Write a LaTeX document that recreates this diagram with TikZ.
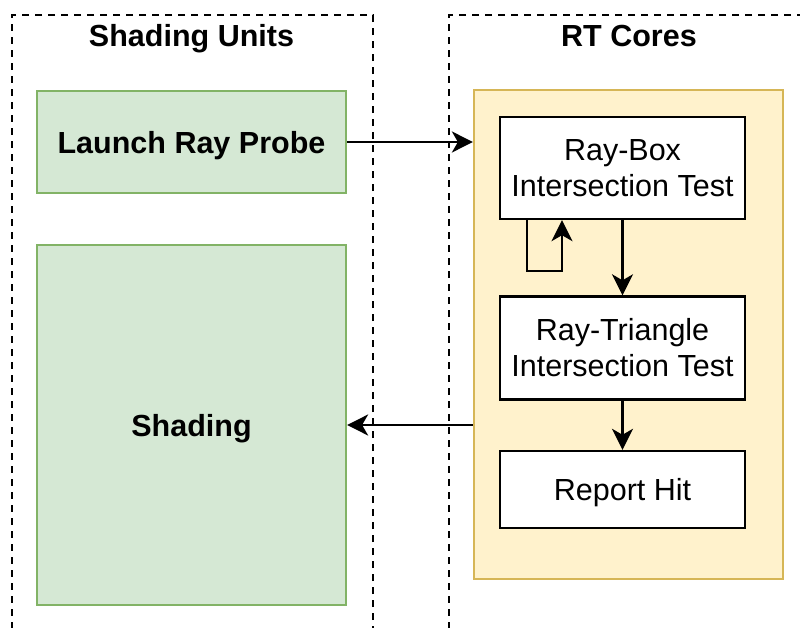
\documentclass[tikz,border=0pt]{standalone}
\usepackage{fontspec}
\setmainfont{Liberation Sans}
\usetikzlibrary{arrows.meta}
\usetikzlibrary{positioning}
\definecolor{greenfill}{HTML}{D5E8D4}
\definecolor{greenline}{HTML}{82B366}
\definecolor{yellowfill}{HTML}{FFF2CC}
\definecolor{yellowline}{HTML}{D6B656}
\tikzset{
  container/.style={draw, line width=2.4pt, dash pattern=on 7pt off 6pt, anchor=north west},
  title/.style={font=\fontsize{30.5}{36}\selectfont\bfseries, anchor=base},
  sunit/.style={draw=greenline, fill=greenfill, line width=2.2pt, minimum width=309pt,
    font=\fontsize{30.5}{36}\selectfont\bfseries, text depth=0pt},
  stage/.style={draw, fill=white, line width=2.4pt, minimum width=245pt, align=center,
    font=\fontsize{30.5}{36}\selectfont},
  arr/.style={line width=2.4pt, -{Stealth[length=21pt,width=21pt,inset=6pt]}}
}
\begin{document}
\begin{tikzpicture}[x=1pt, y=-1pt]
      \useasboundingbox (0, 0) rectangle (800, 628);
      % dashed groups, open at the picture edge
      \node [container, minimum width=361pt, minimum height=660pt] (units) at (11, 14) {};
      \node [container, minimum width=400pt, minimum height=660pt] (cores) at (448, 14) {};
      \node [title] at (191.5, 47) {Shading Units};
      \node [title] at (629, 47) {RT Cores};
      % shading units
      \node [sunit, minimum height=102pt] (launch) at (191.5, 142) {Launch Ray Probe};
      \node [sunit, minimum height=360pt] (shading) at (191.5, 425) {Shading};
      % rt core pipeline
      \node [draw=yellowline, fill=yellowfill, line width=2.2pt, minimum width=309pt, minimum height=489pt] (rt) at (628.5, 334.5) {};
      \node [stage, minimum height=102pt] (raybox) at (622.5, 168) {Ray-Box\\Intersection Test};
      \node [stage, minimum height=103pt] (raytri) at (622.5, 348) {Ray-Triangle\\Intersection Test};
      \node [stage, minimum height=77pt, text depth=0pt] (hit) at (622.5, 489.5) {Report Hit};
      \draw [arr] (launch.east) -- (launch.east -| rt.west);
      \draw [arr] (rt.west |- shading.east) -- (shading.east);
      \draw [arr] (raybox.south) -- (raytri.north);
      \draw [arr] (raytri.south) -- (hit.north);
      \draw [arr] ([xshift=-95.5pt]raybox.south) -- ++(0, 51) -| ([xshift=-60.5pt]raybox.south);
    \end{tikzpicture}
\end{document}
